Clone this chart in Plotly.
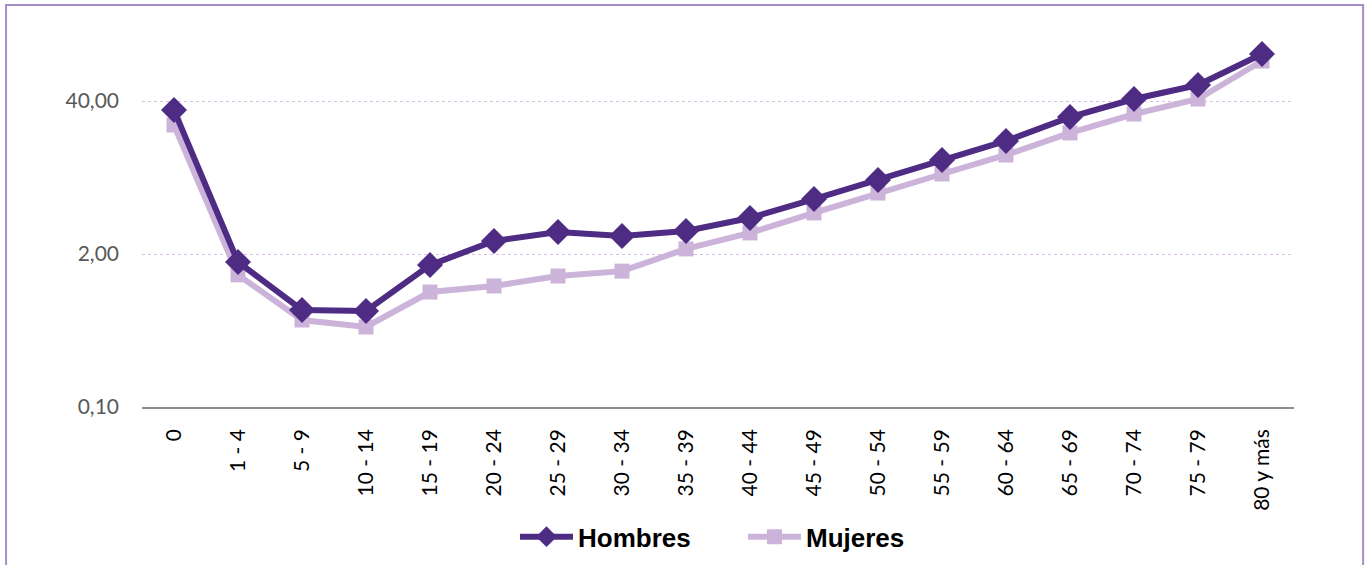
import plotly.graph_objects as go

# age groups and rates (log scale)
edades = ["0", "1 - 4", "5 - 9", "10 - 14", "15 - 19", "20 - 24", "25 - 29", "30 - 34",
          "35 - 39", "40 - 44", "45 - 49", "50 - 54", "55 - 59", "60 - 64", "65 - 69",
          "70 - 74", "75 - 79", "80 y más"]
hombres = [33.5, 1.71, 0.668, 0.655, 1.61, 2.58, 3.08, 2.85, 3.14, 4.05, 5.87, 8.51,
           12.6, 18.3, 29.2, 41.6, 54.7, 100.4]
mujeres = [25.0, 1.33, 0.549, 0.479, 0.95, 1.07, 1.30, 1.43, 2.21, 3.02, 4.47, 6.6,
           9.58, 13.9, 21.4, 31.0, 41.6, 87.5]
y_ticks = [0.1, 2, 40]
y_labels = ["0,10", "2,00", "40,00"]

fig = go.Figure()

# mujeres drawn first so hombres sits on top
fig.add_trace(go.Scatter(
    x=edades, y=mujeres, name="Mujeres", mode="lines+markers",
    line=dict(color="#ccb3d9", width=6),
    marker=dict(symbol="square", size=15, color="#ccb3d9"),
    legendrank=2,
))
fig.add_trace(go.Scatter(
    x=edades, y=hombres, name="Hombres", mode="lines+markers",
    line=dict(color="#4f2c84", width=6),
    marker=dict(symbol="diamond", size=20, color="#4f2c84"),
    legendrank=1,
))

fig.update_layout(
    width=1368, height=565,
    margin=dict(l=142, r=74, t=20, b=158),
    plot_bgcolor="white", paper_bgcolor="white",
    showlegend=True,
    legend=dict(
        orientation="h", x=0.5217, xanchor="center",
        yref="container", y=0.05, yanchor="middle",
        font=dict(family="Liberation Sans, Arial", size=26, color="black", weight="bold"),
        itemwidth=53, entrywidth=160, entrywidthmode="pixels",
    ),
    shapes=[dict(type="rect", xref="paper", yref="paper",
                 x0=-0.118, x1=1.06, y0=-0.6, y1=1.039,
                 line=dict(color="#a58cc8", width=2), layer="below")],
)

fig.update_xaxes(
    type="category", tickangle=-90, range=[-0.5, 17.5], automargin=False,
    tickfont=dict(family="Lato, Noto Sans", size=21, color="black"),
    showline=True, linecolor="#8c8c8c", linewidth=1.5,
    showgrid=False, ticks="", ticklabelstandoff=12,
)
fig.update_yaxes(
    type="log", range=[-1, 2.291], automargin=False,
    tickvals=y_ticks, ticktext=y_labels,
    tickfont=dict(family="Lato, Noto Sans", size=21, color="#595959"),
    showgrid=True, gridcolor="#d9bde3", griddash="dot", gridwidth=1,
    zeroline=False, showline=False, ticks="", ticklabelstandoff=22,
)

fig.write_html("out.html", config={"displayModeBar": False},
               post_script="document.body.style.margin='0';")
